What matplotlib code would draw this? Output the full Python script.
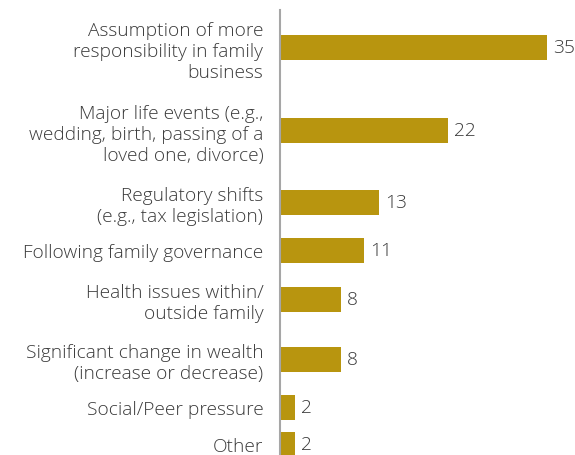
import matplotlib
matplotlib.use("Agg")
import matplotlib.pyplot as plt
import numpy as np

labels = [
    "Assumption of more\nresponsibility in family\nbusiness",
    "Major life events (e.g.,\nwedding, birth, passing of a\nloved one, divorce)",
    "Regulatory shifts\n(e.g., tax legislation)",
    "Following family governance",
    "Health issues within/\noutside family",
    "Significant change in wealth\n(increase or decrease)",
    "Social/Peer pressure",
    "Other",
]
values = [35, 22, 13, 11, 8, 8, 2, 2]

BAR_COLOR = "#b8950f"
TEXT_COLOR = "#3a3a3a"

plt.rcParams['font.family'] = ['Open Sans', 'DejaVu Sans']

# rows with more label lines get more room (positions in pixel-like units)
n_lines = np.array([lab.count("\n") + 1 for lab in labels])
gaps = 14 + 11.5 * (n_lines[:-1] + n_lines[1:])
ypos = 48.5 + np.concatenate([[0], np.cumsum(gaps)])

fig = plt.figure(figsize=(5.75, 4.56), dpi=100)
# axes from x=280px to right edge, y=11px to bottom
ax = fig.add_axes([280 / 575, 0, 1 - 280 / 575, 1 - 11 / 456])
ax.barh(ypos, values, height=25, color=BAR_COLOR)
ax.set_ylim(456, 11)
ax.set_xlim(0, (575 - 280) / 7.62)

for y, v in zip(ypos, values):
    ax.annotate(str(v), (v, y), xytext=(4.5, 0), textcoords="offset points",
                va="center", ha="left", fontsize=13.8, color=TEXT_COLOR,
                fontweight="light")

ax.set_yticks(ypos)
ax.set_yticklabels(labels, fontsize=13.8, color=TEXT_COLOR, linespacing=1.2,
                   fontweight="light")
ax.tick_params(axis="y", length=0, pad=12)
ax.set_xticks([])
for s in ["top", "right", "bottom"]:
    ax.spines[s].set_visible(False)
ax.spines["left"].set_color("#a6a6a6")
ax.spines["left"].set_linewidth(1.5)

fig.savefig("out.png", dpi=100)
